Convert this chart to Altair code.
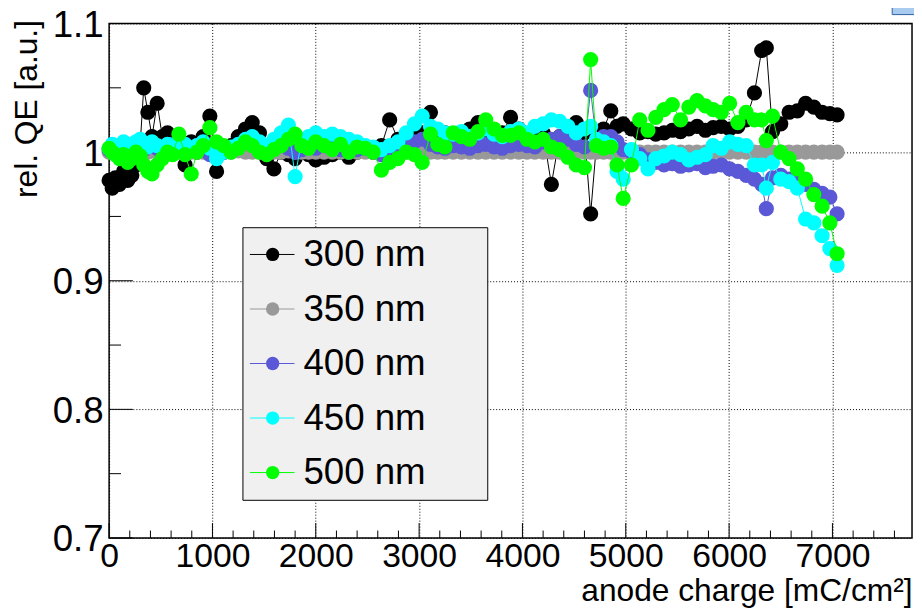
import altair as alt
import pandas as pd

FONT = "Liberation Sans"

# ---------------- data ----------------
x_charge = [
    0, 30, 60, 100, 140, 180, 220, 260, 300, 335,
    375, 415, 465, 515, 565, 615, 675, 735, 795, 850,
    910, 975, 1040, 1110, 1180, 1250, 1320, 1385, 1455, 1525,
    1595, 1665, 1735, 1800, 1865, 1930, 2000, 2080, 2160, 2240,
    2320, 2400, 2480, 2555, 2635, 2715, 2795, 2875, 2955, 3030,
    3110, 3180, 3250, 3330, 3410, 3490, 3570, 3645, 3725, 3805,
    3885, 3965, 4045, 4120, 4200, 4280, 4360, 4440, 4520, 4600,
    4660, 4715, 4785, 4855, 4915, 4975, 5055, 5135, 5215, 5290,
    5370, 5450, 5530, 5610, 5690, 5770, 5845, 5925, 6005, 6085,
    6165, 6245, 6315, 6360, 6420, 6500, 6580, 6660, 6740, 6820,
    6900, 6975, 7045,
]

qe_300 = [
    0.978, 0.972, 0.980, 0.975, 0.985, 0.978, 0.982, 0.990, 1.005, 1.050,
    1.031, 1.012, 1.038, 1.012, 1.015, 1.010, 1.005, 0.990, 1.008, 1.000,
    1.012, 1.028, 0.985, 1.000, 1.005, 1.012, 1.018, 1.023, 1.015, 0.995,
    0.987, 1.000, 0.998, 0.995, 1.000, 0.998, 0.994, 0.996, 0.998, 1.000,
    0.996, 1.000, 1.002, 1.000, 1.005, 1.025, 1.010, 1.012, 1.015, 1.015,
    1.031, 1.012, 1.015, 1.010, 1.015, 1.018, 1.023, 1.015, 1.012, 1.015,
    1.027, 1.018, 1.010, 1.012, 1.015, 0.975, 1.012, 1.015, 1.023, 1.015,
    0.952, 1.005, 1.018, 1.032, 1.020, 1.022, 1.018, 1.015, 1.016, 1.014,
    1.015, 1.017, 1.016, 1.018, 1.020, 1.017, 1.019, 1.020, 1.018, 1.020,
    1.025, 1.046, 1.079, 1.081, 1.016, 1.022, 1.031, 1.032, 1.038, 1.035,
    1.031, 1.030, 1.029,
]

qe_350 = [
    1.000, 1.001, 1.000, 0.999, 1.000, 1.001, 1.000, 1.000, 0.999, 1.000,
    1.000, 1.001, 1.000, 1.000, 0.999, 1.000, 1.000, 1.001, 1.000, 1.000,
    1.000, 1.000, 0.999, 1.000, 1.000, 1.001, 1.000, 1.000, 1.000, 1.000,
    1.000, 1.000, 1.001, 1.000, 1.000, 1.000, 1.000, 1.000, 1.000, 1.000,
    1.000, 1.000, 1.000, 1.000, 1.000, 1.000, 1.000, 1.000, 1.000, 1.000,
    1.000, 1.000, 1.000, 1.000, 1.000, 1.000, 1.000, 1.000, 1.000, 1.000,
    1.000, 1.000, 1.000, 1.000, 1.000, 1.000, 1.000, 1.000, 1.000, 1.000,
    1.000, 1.000, 1.000, 1.000, 1.000, 1.000, 1.000, 1.000, 1.000, 1.000,
    1.000, 1.000, 1.000, 1.000, 1.000, 1.000, 1.000, 1.000, 1.000, 1.000,
    1.000, 1.000, 1.000, 1.000, 1.000, 1.000, 1.000, 1.000, 1.000, 1.000,
    1.000, 1.000, 1.000,
]

qe_400 = [
    1.002, 1.004, 1.003, 1.005, 1.002, 1.004, 1.006, 1.003, 1.005, 1.002,
    1.004, 1.006, 1.003, 1.000, 1.004, 1.006, 1.003, 1.000, 1.002, 1.005,
    1.003, 0.998, 0.996, 1.000, 1.003, 1.005, 1.008, 1.010, 1.006, 1.002,
    1.004, 1.006, 1.003, 1.000, 1.002, 1.004, 1.003, 1.005, 1.004, 1.002,
    1.000, 1.002, 1.003, 1.001, 0.998, 1.002, 1.004, 1.006, 1.008, 1.010,
    1.006, 1.004, 1.003, 1.005, 1.004, 1.003, 1.005, 1.006, 1.004, 1.003,
    1.005, 1.006, 1.005, 1.004, 1.008, 1.010, 1.012, 1.010, 1.006, 1.004,
    1.048, 1.008, 1.012, 1.012, 1.008, 1.002, 1.000, 0.998, 0.994, 0.992,
    0.990, 0.991, 0.989, 0.990, 0.991, 0.988, 0.989, 0.990, 0.987, 0.985,
    0.982, 0.979, 0.975, 0.956, 0.980, 0.982, 0.979, 0.978, 0.975, 0.971,
    0.968, 0.965, 0.952,
]

qe_450 = [
    1.003, 1.006, 1.004, 1.005, 1.008, 1.003, 1.006, 1.008, 1.010, 1.006,
    1.004, 1.008, 1.005, 1.003, 1.006, 1.004, 1.008, 1.006, 1.003, 1.005,
    1.008, 1.003, 0.995, 1.000, 1.004, 1.006, 1.010, 1.012, 1.008, 1.005,
    1.010, 1.015, 1.021, 0.981, 1.010, 1.012, 1.015, 1.012, 1.014, 1.012,
    1.010, 1.008, 1.005, 1.004, 1.002, 1.005, 1.008, 1.015, 1.022, 1.028,
    1.020, 1.018, 1.015, 1.014, 1.016, 1.012, 1.015, 1.018, 1.014, 1.012,
    1.016, 1.018, 1.015, 1.020, 1.022, 1.025, 1.024, 1.020, 1.015, 1.018,
    1.020, 1.010, 1.008, 1.005, 0.985, 0.979, 1.002, 0.995, 0.987, 0.995,
    0.997, 1.000, 0.998, 0.994, 0.996, 0.998, 1.005, 1.003, 1.008, 1.006,
    1.005, 0.990, 0.990, 0.972, 0.992, 0.979, 0.977, 0.972, 0.948, 0.945,
    0.935, 0.925, 0.912,
]

qe_500 = [
    1.003, 1.000, 0.998, 0.995, 0.998, 0.992, 0.995, 1.000, 0.997, 0.990,
    0.985, 0.983, 0.990, 0.995, 1.000, 0.998, 1.014, 0.998, 0.983, 1.000,
    1.005, 1.019, 1.008, 1.005, 1.000, 1.003, 1.008, 1.005, 1.000, 0.998,
    1.002, 1.005, 1.010, 1.014, 1.005, 1.003, 1.008, 1.005, 1.002, 1.006,
    1.000, 1.004, 1.003, 1.000, 0.986, 0.992, 0.995, 1.000, 0.998, 0.992,
    1.014, 1.006, 1.004, 1.015, 1.012, 1.010, 1.016, 1.025, 1.018, 1.013,
    1.013, 1.015, 1.010, 1.008, 1.010, 1.004, 1.002, 0.996, 0.990, 0.988,
    1.072, 1.005, 1.003, 1.004, 0.990, 0.964, 0.990, 1.025, 1.017, 1.027,
    1.033, 1.037, 1.025, 1.035, 1.040, 1.036, 1.033, 1.031, 1.038, 1.023,
    1.031, 1.025, 1.025, 1.009, 1.028, 1.000, 0.995, 0.987, 0.979, 0.967,
    0.958, 0.945, 0.921,
]

series_names = ["300 nm", "350 nm", "400 nm", "450 nm", "500 nm"]
series_values = [qe_300, qe_350, qe_400, qe_450, qe_500]
series_colors = ["#000000", "#999999", "#5a58d6", "#00ffff", "#00ff00"]

x_major = [0, 1000, 2000, 3000, 4000, 5000, 6000, 7000]
x_minor = [200, 400, 600, 800, 1200, 1400, 1600, 1800, 2200, 2400, 2600, 2800,
           3200, 3400, 3600, 3800, 4200, 4400, 4600, 4800, 5200, 5400, 5600, 5800,
           6200, 6400, 6600, 6800, 7200, 7400, 7600]
y_major = [0.7, 0.8, 0.9, 1.0, 1.1]
y_minor = [0.75, 0.85, 0.95, 1.05]

# ---------------- layout ----------------
W, H = 810, 519

xscale = alt.Scale(domain=[0, 7770], nice=False, zero=False)
yscale = alt.Scale(domain=[0.7, 1.1], nice=False, zero=False)

xaxis = alt.Axis(
    values=x_major, format="d", grid=True, gridDash=[1, 2], gridColor="black",
    gridWidth=1, gridOpacity=1, ticks=False, domain=False,
    labelFont=FONT, labelFontSize=34, labelColor="black", labelPadding=2,
    labelFlush=False, labelOverlap=False,
    title="anode charge [mC/cm²]", titleFont=FONT, titleFontSize=32,
    titleFontWeight="normal", titleColor="black", titleAnchor="end",
    titleAlign="right", titleX=W, titleY=63, titleBaseline="alphabetic",
)
yaxis = alt.Axis(
    values=y_major, grid=True, gridDash=[1, 2], gridColor="black",
    gridWidth=1, gridOpacity=1, ticks=False, domain=False,
    labelExpr="datum.value == 1 ? '1' : format(datum.value, '.1f')",
    labelFont=FONT, labelFontSize=37, labelColor="black", labelPadding=6,
    labelFlush=False, labelOverlap=False, labelBaseline="middle", labelOffset=2,
    title="rel. QE [a.u.]", titleFont=FONT, titleFontSize=32,
    titleFontWeight="normal", titleColor="black", titleAnchor="end",
    titleAngle=270, titleAlign="right", titleBaseline="top",
    titleX=-98, titleY=-4,
)


def X():
    return alt.X("x:Q", scale=xscale, axis=xaxis)


def Y():
    return alt.Y("y:Q", scale=yscale, axis=yaxis)


layers = []

# inward tick marks (ROOT style)
layers.append(alt.Chart(pd.DataFrame({"x": x_major})).mark_rule(color="black", strokeWidth=1)
              .encode(x=X(), y=alt.value(H), y2=alt.value(H - 15)))
layers.append(alt.Chart(pd.DataFrame({"x": x_minor})).mark_rule(color="black", strokeWidth=1)
              .encode(x=X(), y=alt.value(H), y2=alt.value(H - 7.5)))
layers.append(alt.Chart(pd.DataFrame({"y": y_major})).mark_rule(color="black", strokeWidth=1)
              .encode(y=Y(), x=alt.value(0), x2=alt.value(24)))
layers.append(alt.Chart(pd.DataFrame({"y": y_minor})).mark_rule(color="black", strokeWidth=1)
              .encode(y=Y(), x=alt.value(0), x2=alt.value(12)))

# data series: line then markers, per graph
for name, vals, col in zip(series_names, series_values, series_colors):
    df = pd.DataFrame({"x": x_charge, "y": vals})
    base = alt.Chart(df)
    layers.append(base.mark_line(color=col, strokeWidth=1).encode(x=X(), y=Y()))
    layers.append(base.mark_circle(color=col, size=235, opacity=1).encode(x=X(), y=Y()))

# legend box
one = pd.DataFrame({"k": [0]})
LX0, LX1, LY0, LY1 = 135, 382, 206, 481
layers.append(alt.Chart(one).mark_rect(fill="#f0f0f0", stroke="black", strokeWidth=1)
              .encode(x=alt.value(LX0), x2=alt.value(LX1), y=alt.value(LY0), y2=alt.value(LY1)))
ROW0, ROWSTEP = 233, 55
for i, (name, col) in enumerate(zip(series_names, series_colors)):
    ry = ROW0 + ROWSTEP * i
    layers.append(alt.Chart(one).mark_rule(color=col, strokeWidth=1)
                  .encode(x=alt.value(142), x2=alt.value(187), y=alt.value(ry)))
    layers.append(alt.Chart(one).mark_circle(color=col, size=180, opacity=1)
                  .encode(x=alt.value(165), y=alt.value(ry)))
    layers.append(alt.Chart(one).mark_text(text=name, align="left", baseline="middle",
                                           font=FONT, fontSize=37, color="black")
                  .encode(x=alt.value(196), y=alt.value(ry + 1)))

# partially visible stats box at top right
layers.append(alt.Chart(one).mark_rect(fill="#a8cbef", stroke="#2f62a3", strokeWidth=1)
              .encode(x=alt.value(790), x2=alt.value(840), y=alt.value(-40), y2=alt.value(-9)))

chart = (
    alt.layer(*layers)
    .properties(
        width=W, height=H,
        autosize=alt.AutoSizeParams(type="none"),
        padding={"left": 102, "top": 13, "right": 2, "bottom": 68},
        background="white",
    )
    .configure_view(stroke="black", strokeWidth=1.5)
)

chart.save("out.html", embed_options={"renderer": "svg", "actions": False})
